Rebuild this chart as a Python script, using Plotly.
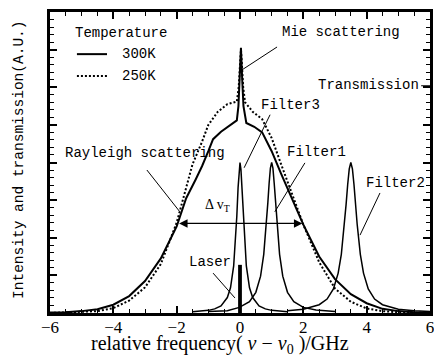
import plotly.graph_objects as go

# ---- data ----
# 300K Rayleigh + Mie scattering (solid)
ray300_x = [-6, -5.5, -5, -4.5, -4, -3.5, -3, -2.5, -2, -1.7, -1.4, -1.2, -1.0, -0.85, -0.6, -0.3,
            -0.1, -0.05, -0.01, 0.03, 0.07, 0.11, 0.2, 0.45, 0.7, 1.0, 1.3, 1.6, 2.0, 2.5, 3.0,
            3.5, 4.0, 4.5, 5.0, 5.5, 6.0]
ray300_y = [0.01, 0.02, 0.05, 0.1, 0.22, 0.45, 0.85, 1.45, 2.3, 3.05, 3.55, 3.9, 4.3, 4.62, 4.82, 5.0,
            5.12, 5.5, 6.2, 7.05, 6.2, 5.5, 5.05, 4.95, 4.8, 4.3, 3.7, 3.1, 2.35, 1.5, 0.9,
            0.5, 0.26, 0.11, 0.05, 0.02, 0.01]
# 250K (dotted)
ray250_x = [-6, -5.5, -5, -4.5, -4, -3.5, -3, -2.5, -2, -1.5, -1.2, -1.0, -0.7, -0.4, -0.1, -0.04,
            0.0, 0.03, 0.06, 0.1, 0.16, 0.4, 0.7, 1.0, 1.3, 1.6, 2.0, 2.5, 3.0, 3.5, 4.0, 4.5,
            5.0, 5.5, 6.0]
ray250_y = [0.0, 0.01, 0.02, 0.05, 0.13, 0.33, 0.68, 1.3, 2.4, 3.95, 4.55, 5.0, 5.35, 5.55, 5.62, 6.0,
            6.6, 7.0, 6.6, 6.0, 5.6, 5.35, 5.15, 4.65, 3.95, 3.25, 2.35, 1.35, 0.65, 0.3, 0.12, 0.05,
            0.02, 0.01, 0.0]
# Filter transmissions
f3_x = [-1.5, -1.0, -0.8, -0.6, -0.4, -0.3, -0.2, -0.15, -0.1, -0.06, -0.03, 0.0,
        0.03, 0.06, 0.1, 0.15, 0.2, 0.3, 0.4, 0.6, 0.8, 1.0, 1.5]
f3_y = [0.03, 0.07, 0.11, 0.19, 0.41, 0.67, 1.25, 1.79, 2.58, 3.34, 3.81, 4.0,
        3.81, 3.34, 2.58, 1.79, 1.25, 0.67, 0.41, 0.19, 0.11, 0.07, 0.03]
f1_x = [-1.0, -0.4, -0.02, 0.3, 0.5, 0.65, 0.75, 0.82, 0.88, 0.92, 0.96, 1.0,
        1.04, 1.08, 1.12, 1.18, 1.25, 1.35, 1.5, 1.7, 2.0, 2.4, 3.0]
f1_y = [0.04, 0.06, 0.15, 0.30, 0.55, 0.98, 1.56, 2.21, 2.94, 3.45, 3.85, 4.0,
        3.85, 3.45, 2.94, 2.21, 1.56, 0.98, 0.55, 0.30, 0.15, 0.08, 0.04]
f2_x = [1.5, 2.0, 2.5, 2.75, 2.95, 3.1, 3.2, 3.3, 3.35, 3.4, 3.45, 3.5,
        3.55, 3.6, 3.65, 3.7, 3.8, 3.9, 4.05, 4.25, 4.5, 5.0, 5.5, 6.0]
f2_y = [0.057, 0.10, 0.22, 0.37, 0.64, 1.06, 1.56, 2.36, 2.88, 3.41, 3.83, 4.0,
        3.83, 3.41, 2.88, 2.36, 1.56, 1.06, 0.64, 0.37, 0.22, 0.10, 0.057, 0.037]
laser_x = [0.0]
laser_y = [1.28]

legend_labels = ["300K", "250K"]
x_ticks = [-6, -4, -2, 0, 2, 4, 6]

LBL = "Liberation Mono, Courier New, monospace"
SER = "Liberation Serif, Times New Roman, serif"
NB = "\u00a0"

fig = go.Figure()
fig.add_trace(go.Scatter(x=ray250_x, y=ray250_y, mode="lines",
                         line=dict(color="black", width=2, dash="2px,2px"), name="250K"))
fig.add_trace(go.Scatter(x=ray300_x, y=ray300_y, mode="lines",
                         line=dict(color="black", width=2), name="300K"))
for fx, fy in [(f3_x, f3_y), (f1_x, f1_y), (f2_x, f2_y)]:
    fig.add_trace(go.Scatter(x=fx, y=fy, mode="lines", line=dict(color="black", width=1.5)))
fig.add_trace(go.Bar(x=laser_x, y=laser_y, width=0.12, marker=dict(color="black", line=dict(width=0))))

shapes = []
def seg(x0, y0, x1, y1, w=1, dash=None):
    d = dict(type="line", xref="x", yref="y", x0=x0, y0=y0, x1=x1, y1=y1,
             line=dict(color="black", width=w))
    if dash:
        d["line"]["dash"] = dash
    shapes.append(d)

# leader lines
seg(0.06, 6.46, 1.17, 7.07)     # Mie
seg(0.95, 5.27, 0.13, 3.86)     # Filter3
seg(2.05, 3.99, 1.1, 2.69)      # Filter1
seg(4.42, 3.19, 3.79, 2.07)     # Filter2
seg(-2.94, 3.8, -1.9, 2.69)     # Rayleigh
seg(-0.85, 1.06, -0.16, 0.4)    # Laser
seg(5.72, 6.04, 6.0, 6.04)      # Transmission
# legend samples
seg(-5.15, 6.88, -4.2, 6.88, w=2)
seg(-5.15, 6.30, -4.2, 6.30, w=2, dash="2px,2px")

ann = []
def txt(x, y, s, size=14, font=LBL, xanchor="left"):
    ann.append(dict(x=x, y=y, xref="x", yref="y", text=s, showarrow=False,
                    xanchor=xanchor, yanchor="middle",
                    font=dict(family=font, size=size, color="black")))

txt(-5.27, 7.44, "Temperature")
txt(-3.79, 6.88, legend_labels[0])
txt(-3.79, 6.30, legend_labels[1])
txt(1.26, 7.47, "Mie scattering")
txt(5.72, 6.06, "Transmission", xanchor="right")
txt(0.6, 5.53, "Filter3")
txt(1.42, 4.28, "Filter1")
txt(3.92, 3.46, "Filter2")
txt(-5.59, 4.25, "Rayleigh scattering")
txt(-1.67, 1.36, "Laser")
txt(-1.17, 2.87, "Δ v<sub>T</sub>", size=14, font=SER)

# double arrow for delta nu_T
ann.append(dict(x=1.97, y=2.38, ax=-1.97, ay=2.38, xref="x", yref="y", axref="x", ayref="y",
                text="", showarrow=True, arrowside="end+start", arrowhead=2, arrowsize=1.3,
                arrowwidth=1.3, arrowcolor="black"))

# axis titles
ann.append(dict(x=0.447, y=-0.152, xref="paper", yref="paper", showarrow=False,
                text="relative frequency(" + NB + "<i>ν</i>" + NB + "−" + NB + "<i>ν</i><sub>0</sub>"
                     + NB + ")/GHz",
                xanchor="center", yanchor="bottom",
                font=dict(family=SER, size=20, color="black")))
ann.append(dict(x=-0.082, y=0.508, xref="paper", yref="paper", showarrow=False,
                text="Intensity and transmission(A.U.)", textangle=-90,
                xanchor="center", yanchor="middle",
                font=dict(family=LBL, size=14.5, color="black")))

fig.update_layout(
    width=434, height=355,
    margin=dict(l=50, r=4, t=12, b=42, autoexpand=False),
    paper_bgcolor="white", plot_bgcolor="white",
    showlegend=False, shapes=shapes, annotations=ann,
    xaxis=dict(range=[-6, 6], tickvals=x_ticks, ticks="inside", ticklen=7, tickwidth=1.5,
               tickcolor="black", showline=True, linewidth=2.5, linecolor="black",
               mirror="allticks", showgrid=False, zeroline=False, automargin=False,
               ticklabeloverflow="allow", ticklabelstandoff=-3,
               tickfont=dict(family=SER, size=17, color="black"),
               minor=dict(dtick=0.5, tick0=0, ticks="inside", ticklen=4, tickwidth=1.2,
                          tickcolor="black", showgrid=False)),
    yaxis=dict(range=[0, 8], dtick=1, tick0=0, ticks="inside", ticklen=7, tickwidth=1.5,
               tickcolor="black", showline=True, linewidth=2.5, linecolor="black",
               mirror="allticks", showgrid=False, zeroline=False, showticklabels=False,
               automargin=False,
               minor=dict(dtick=0.2, tick0=0, ticks="inside", ticklen=4, tickwidth=1.2,
                          tickcolor="black", showgrid=False)),
)

fig.write_html("out.html", config={"displayModeBar": False},
               post_script="document.body.style.margin='0';document.body.style.padding='0';")
